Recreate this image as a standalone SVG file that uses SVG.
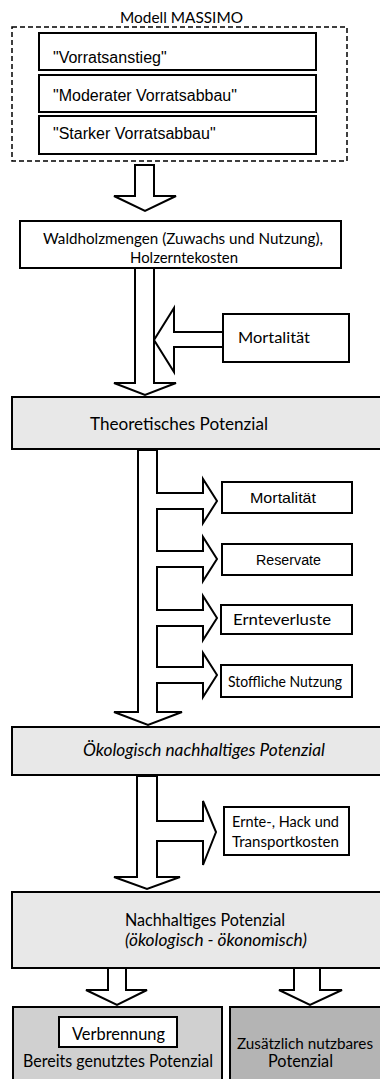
<svg xmlns="http://www.w3.org/2000/svg" width="380" height="1079" viewBox="0 0 380 1079">
<style>
.box{fill:#fff;stroke:#000;stroke-width:2}
.g1{fill:#e8e8e8;stroke:#000;stroke-width:2}
.g2{fill:#d0d0d0;stroke:#000;stroke-width:2}
.g3{fill:#b4b4b4;stroke:#000;stroke-width:2}
.arr{fill:#fff;stroke:#000;stroke-width:2;stroke-linejoin:miter}
.c{font-family:Lato,"Open Sans",sans-serif;fill:#000}
.a{font-family:"Liberation Sans",Arial,sans-serif;fill:#000}
.i{font-style:italic}
</style>
<rect width="380" height="1079" fill="#fff"/>

<g id="massimo">
<text class="c" x="120" y="23" font-size="15" textLength="123" lengthAdjust="spacingAndGlyphs">Modell MASSIMO</text>
<rect x="12" y="27" width="335" height="134" fill="none" stroke="#000" stroke-width="1.5" stroke-dasharray="5,3"/>
</g>
<g id="vorratsanstieg">
<rect class="box" x="39" y="33" width="277" height="37" stroke-width="2.5"/>
<text class="a" x="53" y="63" font-size="16">"Vorratsanstieg"</text>
</g>
<g id="moderater">
<rect class="box" x="39" y="75" width="277" height="37" stroke-width="2.5"/>
<text class="a" x="53" y="101" font-size="16">"Moderater Vorratsabbau"</text>
</g>
<g id="starker">
<rect class="box" x="39" y="116" width="277" height="38" stroke-width="2.5"/>
<text class="a" x="53" y="139" font-size="16">"Starker Vorratsabbau"</text>
</g>

<g id="connectors">
<path class="arr" d="M135,165 L154,165 L154,196 L176,196 L145,211 L114,196 L135,196 Z"/>
<path class="arr" d="M135,268 L154,268 L154,383 L176,383 L145,395 L114,383 L135,383 Z"/>
<path class="arr" d="M223,332 L174,332 L174,308 L154,340 L174,372 L174,347 L223,347"/>
<path class="arr" d="M138,450 L157,450 L157,493 L203,493 L203,479 L217,501 L203,523 L203,509 L157,509 L157,551 L203,551 L203,537 L217,559 L203,581 L203,567 L157,567 L157,610 L203,610 L203,596 L217,618 L203,640 L203,626 L157,626 L157,667 L203,667 L203,653 L217,675 L203,697 L203,683 L157,683 L157,712 L182,712 L148,725 L114,712 L138,712 Z"/>
<path class="arr" d="M137,776 L157,776 L157,821 L203,821 L203,801 L216,832 L203,865 L203,841 L157,841 L157,877 L180,877 L147,889 L114,877 L137,877 Z"/>
<path class="arr" d="M108,968 L126,968 L126,990 L147,990 L117,1005 L86,990 L108,990 Z"/>
<path class="arr" d="M294,968 L320,968 L320,990 L342,990 L310,1005 L279,990 L294,990 Z"/>
</g>

<g id="waldholz">
<rect class="box" x="20" y="221" width="321" height="47"/>
<text class="c" x="43" y="244" font-size="15" textLength="280" lengthAdjust="spacingAndGlyphs">Waldholzmengen (Zuwachs und Nutzung),</text>
<text class="c" x="130" y="263" font-size="15" textLength="108" lengthAdjust="spacingAndGlyphs">Holzerntekosten</text>
</g>
<g id="mortalitaet1">
<rect class="box" x="223" y="314" width="126" height="48"/>
<text class="c" x="238" y="343" font-size="15" textLength="72" lengthAdjust="spacingAndGlyphs">Mortalität</text>
</g>
<g id="theoretisch">
<rect class="g1" x="12" y="397" width="380" height="52"/>
<text class="c" x="90" y="430" font-size="17" textLength="178" lengthAdjust="spacingAndGlyphs">Theoretisches Potenzial</text>
</g>
<g id="mortalitaet2">
<rect class="box" x="222" y="482" width="130" height="31"/>
<text class="a" x="250" y="503" font-size="15" textLength="66" lengthAdjust="spacingAndGlyphs">Mortalität</text>
</g>
<g id="reservate">
<rect class="box" x="222" y="544" width="130" height="31"/>
<text class="a" x="256" y="565" font-size="14" textLength="65" lengthAdjust="spacingAndGlyphs">Reservate</text>
</g>
<g id="ernteverluste">
<rect class="box" x="221" y="605" width="131" height="29"/>
<text class="c" x="233" y="625" font-size="14.5" textLength="98" lengthAdjust="spacingAndGlyphs">Ernteverluste</text>
</g>
<g id="stofflich">
<rect class="box" x="221" y="665" width="131" height="32"/>
<text class="c" x="228" y="687" font-size="14.5" textLength="114" lengthAdjust="spacingAndGlyphs">Stoffliche Nutzung</text>
</g>
<g id="oekologisch">
<rect class="g1" x="12" y="727" width="380" height="48"/>
<text class="c i" x="83" y="756" font-size="16.5" textLength="242" lengthAdjust="spacingAndGlyphs">Ökologisch nachhaltiges Potenzial</text>
</g>
<g id="erntekosten">
<rect class="box" x="224" y="807" width="125" height="48"/>
<text class="c" x="232" y="827" font-size="14.5" textLength="107" lengthAdjust="spacingAndGlyphs">Ernte-, Hack und</text>
<text class="c" x="232" y="847" font-size="14.5" textLength="107" lengthAdjust="spacingAndGlyphs">Transportkosten</text>
</g>
<g id="nachhaltig">
<rect class="g1" x="12" y="892" width="380" height="76"/>
<text class="c" x="125" y="926" font-size="16.5" textLength="160" lengthAdjust="spacingAndGlyphs">Nachhaltiges Potenzial</text>
<text class="c i" x="125" y="946" font-size="16.5" textLength="182" lengthAdjust="spacingAndGlyphs">(ökologisch - ökonomisch)</text>
</g>
<g id="genutzt">
<rect class="g2" x="13" y="1007" width="209" height="80"/>
<rect class="box" x="59" y="1017" width="118" height="30"/>
<text class="c" x="72" y="1040" font-size="16.5" textLength="93" lengthAdjust="spacingAndGlyphs">Verbrennung</text>
<text class="c" x="23" y="1067" font-size="16.5" textLength="190" lengthAdjust="spacingAndGlyphs">Bereits genutztes Potenzial</text>
</g>
<g id="zusaetzlich">
<rect class="g3" x="230" y="1007" width="151" height="80"/>
<text class="c" x="237" y="1049" font-size="15.5" textLength="136" lengthAdjust="spacingAndGlyphs">Zusätzlich nutzbares</text>
<text class="c" x="268" y="1067" font-size="16.5" textLength="65" lengthAdjust="spacingAndGlyphs">Potenzial</text>
</g>
</svg>
